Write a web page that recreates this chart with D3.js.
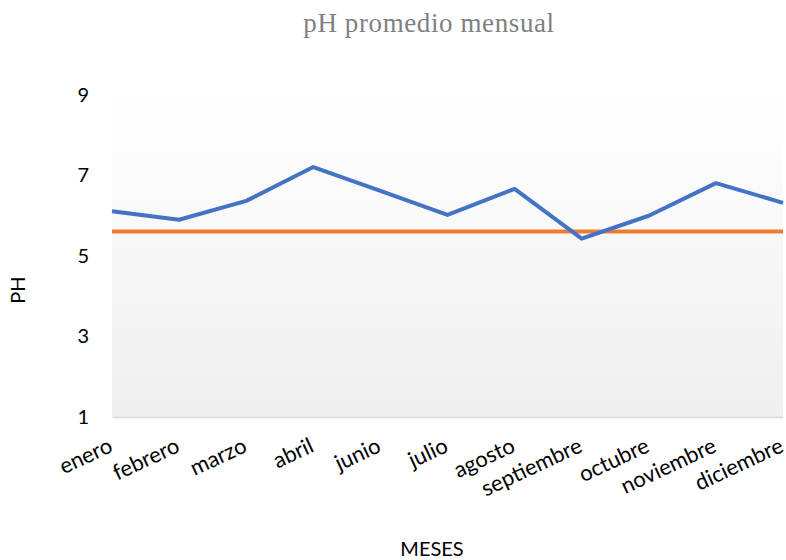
<!DOCTYPE html>
<html>
<head>
<meta charset="utf-8">
<script src="https://cdn.jsdelivr.net/npm/d3@7"></script>
<style>
  body { margin: 0; background: #fff; }
  svg text { font-family: Lato, "Open Sans", sans-serif; }
</style>
</head>
<body>
<div id="chart"></div>
<script>
// data
var meses = ["enero", "febrero", "marzo", "abril", "junio", "julio", "agosto", "septiembre", "octubre", "noviembre", "diciembre"];
var phValues = [6.11, 5.90, 6.37, 7.21, 6.62, 6.02, 6.67, 5.43, 6.00, 6.81, 6.32];
var phRef = [5.61, 5.61, 5.61, 5.61, 5.61, 5.61, 5.61, 5.61, 5.61, 5.61, 5.61];
var yTicks = [1, 3, 5, 7, 9];

var W = 786, H = 560;
var plot = {left: 112, right: 783, top: 95, bottom: 417};

var svg = d3.select("#chart").append("svg")
  .attr("width", W)
  .attr("height", H);

var x = d3.scalePoint()
  .domain(meses)
  .range([plot.left, plot.right]);

var y = d3.scaleLinear()
  .domain([1, 9])
  .range([plot.bottom, plot.top]);

// background gradient of the plot area
var defs = svg.append("defs");
var grad = defs.append("linearGradient")
  .attr("id", "bg")
  .attr("x1", "0%").attr("x2", "0%")
  .attr("y1", "0%").attr("y2", "100%");
grad.append("stop").attr("offset", "0%").attr("stop-color", "#ffffff");
grad.append("stop").attr("offset", "100%").attr("stop-color", "#efefef");

svg.append("rect")
  .attr("x", plot.left)
  .attr("y", plot.top)
  .attr("width", plot.right - plot.left)
  .attr("height", plot.bottom - plot.top)
  .attr("fill", "url(#bg)");

// title
svg.append("text")
  .attr("x", 429)
  .attr("y", 32)
  .attr("text-anchor", "middle")
  .style("font-family", "'Liberation Serif', 'DejaVu Serif', serif")
  .style("font-size", "27px")
  .style("letter-spacing", "0.6px")
  .style("fill", "#7f7f7f")
  .text("pH promedio mensual");

// y axis (labels only)
var yAxis = svg.append("g")
  .attr("transform", "translate(" + plot.left + ",0)")
  .call(d3.axisLeft(y).tickValues(yTicks).tickSize(0).tickPadding(23));
yAxis.select(".domain").remove();
yAxis.selectAll("text")
  .style("font-family", "Lato, sans-serif")
  .style("font-size", "20px")
  .style("fill", "#000");

// x axis line
var xAxis = svg.append("g")
  .attr("transform", "translate(0," + plot.bottom + ")")
  .call(d3.axisBottom(x).tickSize(0).tickFormat(""));
xAxis.select(".domain")
  .attr("stroke", "#d9d9d9")
  .attr("stroke-width", 1.5);

// rotated month labels
svg.append("g").selectAll("text")
  .data(meses)
  .join("text")
    .attr("transform", function(d) { return "translate(" + (x(d) + 2) + "," + 451 + ") rotate(-25)"; })
    .attr("text-anchor", "end")
    .style("font-size", "22px")
    .style("fill", "#000")
    .text(function(d) { return d; });

// axis titles
svg.append("text")
  .attr("x", 432)
  .attr("y", 556)
  .attr("text-anchor", "middle")
  .style("font-size", "20px")
  .text("MESES");

svg.append("text")
  .attr("transform", "translate(25,290) rotate(-90)")
  .attr("text-anchor", "middle")
  .style("font-size", "20px")
  .text("PH");

// lines
var line = d3.line()
  .x(function(d, i) { return x(meses[i]); })
  .y(function(d) { return y(d); });

svg.append("path")
  .datum(phRef)
  .attr("fill", "none")
  .attr("stroke", "#ED7D31")
  .attr("stroke-width", 4)
  .attr("d", line);

svg.append("path")
  .datum(phValues)
  .attr("fill", "none")
  .attr("stroke", "#4472C4")
  .attr("stroke-width", 4)
  .attr("stroke-linejoin", "round")
  .attr("d", line);
</script>
</body>
</html>
